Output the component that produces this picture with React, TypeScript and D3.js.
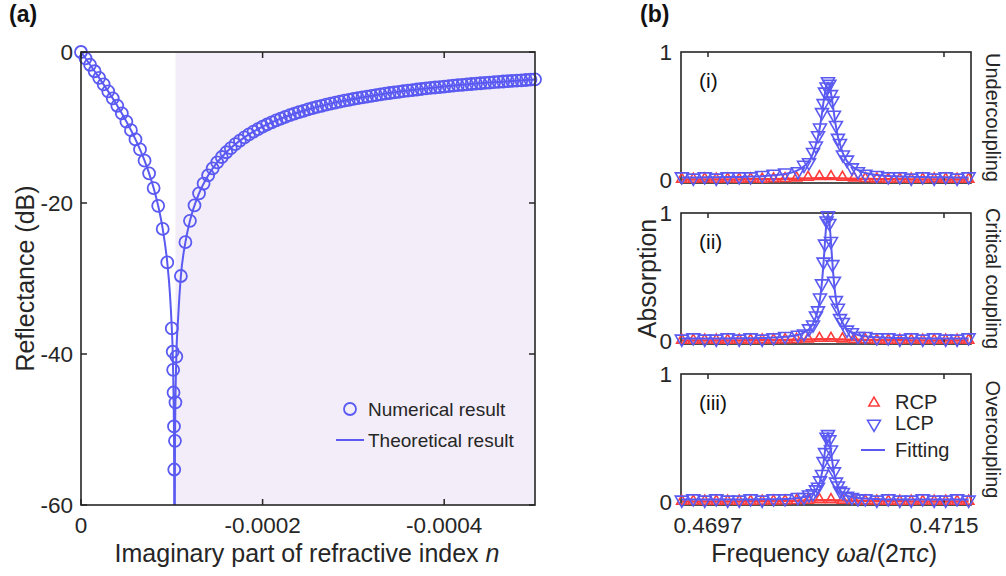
import React, { useEffect, useRef } from "react";
import * as d3 from "d3";

// ---------- panel (a): reflectance vs imaginary part of n (x values in units of 1e-4) ----------
const numImag = [
  0, -0.05, -0.1, -0.15, -0.2, -0.25, -0.3, -0.35, -0.4, -0.45, -0.5, -0.55, -0.6, -0.65, -0.7,
  -0.75, -0.8, -0.85, -0.9, -0.95, -1.0, -1.01, -1.015, -1.019, -1.024, -1.027, -1.035, -1.04,
  -1.05, -1.1, -1.15, -1.2, -1.25, -1.3, -1.35, -1.4, -1.45, -1.5, -1.55, -1.6, -1.65, -1.7,
  -1.75, -1.8, -1.85, -1.9, -1.95, -2.0, -2.05, -2.1, -2.15, -2.2, -2.25, -2.3, -2.35, -2.4,
  -2.45, -2.5, -2.55, -2.6, -2.65, -2.7, -2.75, -2.8, -2.85, -2.9, -2.95, -3.0, -3.05, -3.1,
  -3.15, -3.2, -3.25, -3.3, -3.35, -3.4, -3.45, -3.5, -3.55, -3.6, -3.65, -3.7, -3.75, -3.8,
  -3.85, -3.9, -3.95, -4.0, -4.05, -4.1, -4.15, -4.2, -4.25, -4.3, -4.35, -4.4, -4.45, -4.5,
  -4.55, -4.6, -4.65, -4.7, -4.75, -4.8, -4.85, -4.9, -4.95, -5.0,
];
const numDb = [
  0, -0.84, -1.69, -2.55, -3.42, -4.3, -5.21, -6.15, -7.12, -8.14, -9.21, -10.35, -11.58, -12.91,
  -14.39, -16.07, -18.02, -20.38, -23.43, -27.87, -36.61, -39.7, -42.1, -45.1, -49.6, -55.3, -51.5,
  -46.4, -40.34, -29.67, -25.19, -22.36, -20.31, -18.72, -17.43, -16.35, -15.42, -14.62, -13.91,
  -13.28, -12.72, -12.2, -11.73, -11.31, -10.91, -10.55, -10.21, -9.89, -9.6, -9.32, -9.06, -8.82,
  -8.59, -8.37, -8.17, -7.97, -7.79, -7.61, -7.44, -7.28, -7.13, -6.98, -6.84, -6.71, -6.58, -6.45,
  -6.33, -6.22, -6.11, -6.0, -5.9, -5.8, -5.7, -5.61, -5.52, -5.43, -5.35, -5.27, -5.19, -5.11,
  -5.04, -4.97, -4.9, -4.83, -4.76, -4.7, -4.64, -4.58, -4.52, -4.46, -4.4, -4.35, -4.3, -4.24,
  -4.19, -4.14, -4.1, -4.05, -4.0, -3.96, -3.91, -3.87, -3.83, -3.79, -3.75, -3.71, -3.67, -3.63,
];
const theoryImag = [
  0, -0.1, -0.2, -0.3, -0.4, -0.5, -0.6, -0.7, -0.75, -0.8, -0.85, -0.9, -0.95, -0.98, -1.0, -1.01,
  -1.02, -1.025, -1.03, -1.035, -1.04, -1.05, -1.07, -1.1, -1.15, -1.2, -1.3, -1.4, -1.5, -1.6,
  -1.8, -2.0, -2.25, -2.5, -2.75, -3.0, -3.5, -4.0, -4.5, -5.0,
];
const theoryDb = [
  0, -1.69, -3.42, -5.21, -7.12, -9.21, -11.58, -14.39, -16.07, -18.02, -20.38, -23.43, -27.87,
  -32.1, -36.61, -39.7, -46.2, -52.3, -80, -52.5, -46.4, -40.34, -35.2, -29.67, -25.19, -22.36,
  -18.72, -16.35, -14.62, -13.28, -11.31, -9.89, -8.59, -7.61, -6.84, -6.22, -5.27, -4.58, -4.05,
  -3.63,
];
const shadeFrom = -1.04;
const aXTicks = [0, -2, -4];
const aXTickLabels = ["0", "-0.0002", "-0.0004"];
const aYTicks = [0, -20, -40, -60];

// ---------- panel (b): absorption spectra ----------
const rcpFreq = [
  0.4695, 0.469588, 0.469675, 0.469763, 0.46985, 0.469938, 0.470025, 0.470113, 0.4702, 0.470288,
  0.470375, 0.470463, 0.47055, 0.470638, 0.470725, 0.470813, 0.4709, 0.470988, 0.471075, 0.471163,
  0.47125, 0.471338, 0.471425, 0.471513, 0.4716, 0.471688,
];
const rcpAbs = [
  [0.01, 0.01, 0.012, 0.01, 0.011, 0.01, 0.012, 0.01, 0.013, 0.015, 0.02, 0.025, 0.03, 0.03, 0.025,
    0.02, 0.015, 0.012, 0.01, 0.011, 0.01, 0.01, 0.012, 0.01, 0.01, 0.01],
  [0.01, 0.01, 0.011, 0.01, 0.01, 0.011, 0.01, 0.012, 0.012, 0.014, 0.016, 0.02, 0.024, 0.024,
    0.02, 0.016, 0.013, 0.011, 0.01, 0.01, 0.011, 0.01, 0.01, 0.01, 0.011, 0.01],
  [0.01, 0.011, 0.01, 0.01, 0.011, 0.01, 0.01, 0.011, 0.012, 0.013, 0.015, 0.018, 0.022, 0.022,
    0.018, 0.015, 0.012, 0.011, 0.01, 0.01, 0.01, 0.011, 0.01, 0.01, 0.01, 0.01],
];
const rcpFit = [
  0.008, 0.008, 0.008, 0.008, 0.008, 0.008, 0.009, 0.009, 0.01, 0.011, 0.013, 0.015, 0.017, 0.017,
  0.015, 0.013, 0.011, 0.01, 0.009, 0.009, 0.008, 0.008, 0.008, 0.008, 0.008, 0.008,
];
const lcpFreq = [
  0.4695, 0.469588, 0.469675, 0.469763, 0.46985, 0.469938, 0.470025, 0.470113, 0.4702, 0.470288,
  0.470386, 0.470432, 0.47047, 0.470501, 0.470523, 0.470539, 0.470554, 0.470569, 0.470581, 0.470592,
  0.470604, 0.470615, 0.470626, 0.470638, 0.470649, 0.470661, 0.470676, 0.470691, 0.470707,
  0.470729, 0.47076, 0.470798, 0.470844, 0.4709, 0.470988, 0.471075, 0.471163, 0.47125, 0.471338,
  0.471425, 0.471513, 0.4716, 0.471688,
];
const lcpAbs = [
  [0.03, 0.02, 0.03, 0.02, 0.03, 0.03, 0.03, 0.04, 0.05, 0.06, 0.07, 0.12, 0.14, 0.22, 0.27, 0.35,
    0.41, 0.53, 0.6, 0.69, 0.73, 0.77, 0.75, 0.67, 0.62, 0.51, 0.43, 0.33, 0.29, 0.2, 0.16, 0.1, 0.07,
    0.05, 0.04, 0.03, 0.03, 0.02, 0.03, 0.02, 0.03, 0.02, 0.03],
  [0.02, 0.03, 0.02, 0.02, 0.03, 0.02, 0.03, 0.02, 0.03, 0.04, 0.05, 0.06, 0.1, 0.13, 0.2, 0.24,
    0.34, 0.45, 0.62, 0.76, 0.94, 0.98, 0.92, 0.78, 0.6, 0.47, 0.32, 0.26, 0.18, 0.15, 0.09, 0.07, 0.04,
    0.04, 0.03, 0.03, 0.02, 0.03, 0.02, 0.03, 0.02, 0.02, 0.03],
  [0.02, 0.03, 0.02, 0.03, 0.02, 0.02, 0.03, 0.02, 0.03, 0.03, 0.04, 0.04, 0.06, 0.07, 0.1, 0.12,
    0.17, 0.22, 0.32, 0.39, 0.51, 0.53, 0.49, 0.41, 0.3, 0.24, 0.16, 0.13, 0.09, 0.08, 0.05, 0.04, 0.03,
    0.03, 0.02, 0.03, 0.02, 0.02, 0.03, 0.02, 0.02, 0.03, 0.02],
];
const lcpFit = [
  [0.023, 0.023, 0.024, 0.025, 0.026, 0.027, 0.03, 0.033, 0.04, 0.05, 0.08, 0.11, 0.15, 0.21, 0.28,
    0.34, 0.42, 0.52, 0.61, 0.68, 0.74, 0.76, 0.74, 0.68, 0.61, 0.52, 0.42, 0.34, 0.28, 0.21, 0.15,
    0.11, 0.08, 0.058, 0.043, 0.035, 0.031, 0.028, 0.026, 0.025, 0.024, 0.023, 0.023],
  [0.022, 0.022, 0.022, 0.022, 0.023, 0.024, 0.025, 0.027, 0.03, 0.036, 0.05, 0.07, 0.095, 0.14,
    0.19, 0.25, 0.33, 0.46, 0.61, 0.77, 0.93, 0.99, 0.93, 0.77, 0.61, 0.46, 0.33, 0.25, 0.19, 0.14,
    0.095, 0.07, 0.05, 0.041, 0.032, 0.028, 0.026, 0.025, 0.024, 0.023, 0.023, 0.022, 0.022],
  [0.022, 0.022, 0.022, 0.022, 0.022, 0.022, 0.023, 0.024, 0.025, 0.027, 0.034, 0.042, 0.053,
    0.072, 0.096, 0.124, 0.165, 0.23, 0.31, 0.4, 0.5, 0.54, 0.5, 0.4, 0.31, 0.23, 0.165, 0.124, 0.096,
    0.072, 0.053, 0.042, 0.034, 0.03, 0.026, 0.023, 0.023, 0.022, 0.022, 0.022, 0.022, 0.022, 0.022],
];
const subLabels = ["(i)", "(ii)", "(iii)"];
const regimes = ["Undercoupling", "Critical coupling", "Overcoupling"];
const bXTicks = [0.4697, 0.4715];
const bYTicks = [0, 1];

const FONT = "'Liberation Sans', Arial, Helvetica, sans-serif";
const BLUE = "#5a5af2";
const RED = "#ff3c3c";
const AXIS = "#262626";

const drawPanelA = (svg: any) => {
  const box = { l: 81, t: 52, r: 535, b: 505 };
  const x = d3.scaleLinear().domain([0, -5]).range([box.l, box.r]);
  const y = d3.scaleLinear().domain([-60, 0]).range([box.b, box.t]);
  const g = svg.append("g");

  g.append("clipPath").attr("id", "clipA").append("rect")
    .attr("x", box.l).attr("y", box.t).attr("width", box.r - box.l).attr("height", box.b - box.t);

  // shaded region
  g.append("rect")
    .attr("x", x(shadeFrom)).attr("y", box.t)
    .attr("width", box.r - x(shadeFrom)).attr("height", box.b - box.t)
    .attr("fill", "#f2edf8");

  // theoretical curve
  const pts = theoryImag.map((v, i) => [v, theoryDb[i]] as [number, number]);
  const line = d3.line<[number, number]>().x((d) => x(d[0])).y((d) => y(d[1])).curve(d3.curveMonotoneX);
  g.append("path").attr("d", line(pts)).attr("fill", "none")
    .attr("stroke", BLUE).attr("stroke-width", 2).attr("clip-path", "url(#clipA)");

  // numerical circles
  g.selectAll("circle.num").data(numImag).enter().append("circle")
    .attr("cx", (d: number) => x(d)).attr("cy", (_: number, i: number) => y(numDb[i]))
    .attr("r", 6).attr("fill", "none").attr("stroke", BLUE).attr("stroke-width", 1.8);

  // box + ticks
  g.append("rect").attr("x", box.l).attr("y", box.t).attr("width", box.r - box.l)
    .attr("height", box.b - box.t).attr("fill", "none").attr("stroke", AXIS).attr("stroke-width", 1.6);
  aXTicks.forEach((v, i) => {
    g.append("line").attr("x1", x(v)).attr("x2", x(v)).attr("y1", box.b).attr("y2", box.b - 6)
      .attr("stroke", AXIS).attr("stroke-width", 1.5);
    g.append("line").attr("x1", x(v)).attr("x2", x(v)).attr("y1", box.t).attr("y2", box.t + 6)
      .attr("stroke", AXIS).attr("stroke-width", 1.5);
    g.append("text").attr("x", x(v)).attr("y", 533).attr("text-anchor", "middle")
      .attr("font-size", 22.5).attr("fill", "#262626").text(aXTickLabels[i]);
  });
  aYTicks.forEach((v) => {
    g.append("line").attr("x1", box.l).attr("x2", box.l + 6).attr("y1", y(v)).attr("y2", y(v))
      .attr("stroke", AXIS).attr("stroke-width", 1.5);
    g.append("line").attr("x1", box.r).attr("x2", box.r - 6).attr("y1", y(v)).attr("y2", y(v))
      .attr("stroke", AXIS).attr("stroke-width", 1.5);
    g.append("text").attr("x", box.l - 8).attr("y", y(v) + 8).attr("text-anchor", "end")
      .attr("font-size", 22.5).attr("fill", "#262626").text(String(v));
  });

  // axis labels
  const xl = g.append("text").attr("x", (box.l + box.r) / 2 - 1).attr("y", 562)
    .attr("text-anchor", "middle").attr("font-size", 25).attr("fill", "#262626");
  xl.append("tspan").text("Imaginary part of refractive index ");
  xl.append("tspan").attr("font-style", "italic").text("n");
  g.append("text").attr("transform", `translate(34,${(box.t + box.b) / 2}) rotate(-90)`)
    .attr("text-anchor", "middle").attr("font-size", 25).attr("fill", "#262626")
    .text("Reflectance (dB)");

  // legend
  g.append("circle").attr("cx", 350).attr("cy", 409).attr("r", 6).attr("fill", "none")
    .attr("stroke", BLUE).attr("stroke-width", 1.8);
  g.append("line").attr("x1", 336).attr("x2", 364).attr("y1", 440).attr("y2", 440)
    .attr("stroke", BLUE).attr("stroke-width", 2);
  g.append("text").attr("x", 368).attr("y", 416).attr("font-size", 19).attr("fill", "#262626")
    .text("Numerical result");
  g.append("text").attr("x", 368).attr("y", 447).attr("font-size", 19).attr("fill", "#262626")
    .text("Theoretical result");

  g.append("text").attr("x", 9).attr("y", 22).attr("font-size", 23).attr("font-weight", "bold")
    .attr("fill", "#111").text("(a)");
};

const drawPanelB = (svg: any) => {
  const l = 681, r = 971, h = 131;
  const tops = [52, 213, 374];
  const x = d3.scaleLinear().domain([0.469494, 0.471706]).range([l, r]);
  const g = svg.append("g");
  const triUp = d3.symbol().type(d3.symbolTriangle).size(46);
  const triDown = d3.symbol().type(d3.symbolTriangle).size(72);

  tops.forEach((top, k) => {
    const y = d3.scaleLinear().domain([-0.02, 1]).range([top + h, top]);
    const line = d3.line<number>().x((_, i) => x(lcpFreq[i])).y((d) => y(d)).curve(d3.curveMonotoneX);
    const rline = d3.line<number>().x((_, i) => x(rcpFreq[i])).y((d) => y(d)).curve(d3.curveMonotoneX);

    g.append("path").attr("d", rline(rcpFit)).attr("fill", "none").attr("stroke", RED)
      .attr("stroke-width", 2.5);

    // box
    g.append("rect").attr("x", l).attr("y", top).attr("width", r - l).attr("height", h)
      .attr("fill", "none").attr("stroke", AXIS).attr("stroke-width", 1.6);
    bXTicks.forEach((v) => {
      g.append("line").attr("x1", x(v)).attr("x2", x(v)).attr("y1", top + h).attr("y2", top + h - 5)
        .attr("stroke", AXIS).attr("stroke-width", 1.5);
      g.append("line").attr("x1", x(v)).attr("x2", x(v)).attr("y1", top).attr("y2", top + 5)
        .attr("stroke", AXIS).attr("stroke-width", 1.5);
      if (k === 2)
        g.append("text").attr("x", x(v)).attr("y", 533).attr("text-anchor", "middle")
          .attr("font-size", 22.5).attr("fill", "#262626").text(String(v));
    });
    bYTicks.forEach((v) => {
      g.append("text").attr("x", l - 9).attr("y", y(v) + 8).attr("text-anchor", "end")
        .attr("font-size", 22.5).attr("fill", "#262626").text(String(v));
    });

    g.selectAll(`path.rcp${k}`).data(rcpAbs[k]).enter().append("path")
      .attr("class", `rcp${k}`).attr("d", triUp)
      .attr("transform", (d: number, i: number) => `translate(${x(rcpFreq[i])},${y(d)})`)
      .attr("fill", "none").attr("stroke", RED).attr("stroke-width", 1.6);

    g.append("path").attr("d", line(lcpFit[k])).attr("fill", "none").attr("stroke", BLUE)
      .attr("stroke-width", 2);

    g.selectAll(`path.lcp${k}`).data(lcpAbs[k]).enter().append("path")
      .attr("class", `lcp${k}`).attr("d", triDown)
      .attr("transform", (d: number, i: number) => `translate(${x(lcpFreq[i])},${y(d)}) rotate(180)`)
      .attr("fill", "none").attr("stroke", BLUE).attr("stroke-width", 1.6);

    g.append("text").attr("x", l + 18).attr("y", top + 36).attr("font-size", 21)
      .attr("fill", "#111").text(subLabels[k]);
    g.append("text").attr("transform", `translate(986,${top + h / 2}) rotate(90)`)
      .attr("text-anchor", "middle").attr("font-size", 20).attr("fill", "#262626").text(regimes[k]);
  });

  // legend in (iii)
  g.append("path").attr("d", triUp).attr("transform", "translate(874,403)")
    .attr("fill", "none").attr("stroke", RED).attr("stroke-width", 1.6);
  g.append("path").attr("d", triDown).attr("transform", "translate(874,424) rotate(180)")
    .attr("fill", "none").attr("stroke", BLUE).attr("stroke-width", 1.6);
  g.append("line").attr("x1", 861).attr("x2", 885).attr("y1", 450).attr("y2", 450)
    .attr("stroke", BLUE).attr("stroke-width", 2);
  [["RCP", 409], ["LCP", 430], ["Fitting", 457]].forEach(([t, yy]) => {
    g.append("text").attr("x", 895).attr("y", yy).attr("font-size", 20).attr("fill", "#262626").text(t);
  });

  // shared labels
  g.append("text").attr("transform", `translate(656,${(52 + 505) / 2}) rotate(-90)`)
    .attr("text-anchor", "middle").attr("font-size", 25).attr("fill", "#262626").text("Absorption");
  const xl = g.append("text").attr("x", 937).attr("y", 562).attr("text-anchor", "end")
    .attr("font-size", 25).attr("fill", "#262626");
  xl.append("tspan").text("Frequency ");
  xl.append("tspan").attr("font-style", "italic").text("ωa");
  xl.append("tspan").text("/(2π");
  xl.append("tspan").attr("font-style", "italic").text("c");
  xl.append("tspan").text(")");

  g.append("text").attr("x", 640).attr("y", 22).attr("font-size", 23).attr("font-weight", "bold")
    .attr("fill", "#111").text("(b)");
};

export default function App() {
  const ref = useRef<SVGSVGElement>(null);

  useEffect(() => {
    const svg = d3.select(ref.current);
    svg.selectAll("*").remove();
    svg.attr("font-family", FONT);
    drawPanelA(svg);
    drawPanelB(svg);
  }, []);

  return (
    <svg ref={ref} width={1006} height={576}
      style={{ position: "absolute", left: 0, top: 0, background: "#fff" }} />
  );
}
